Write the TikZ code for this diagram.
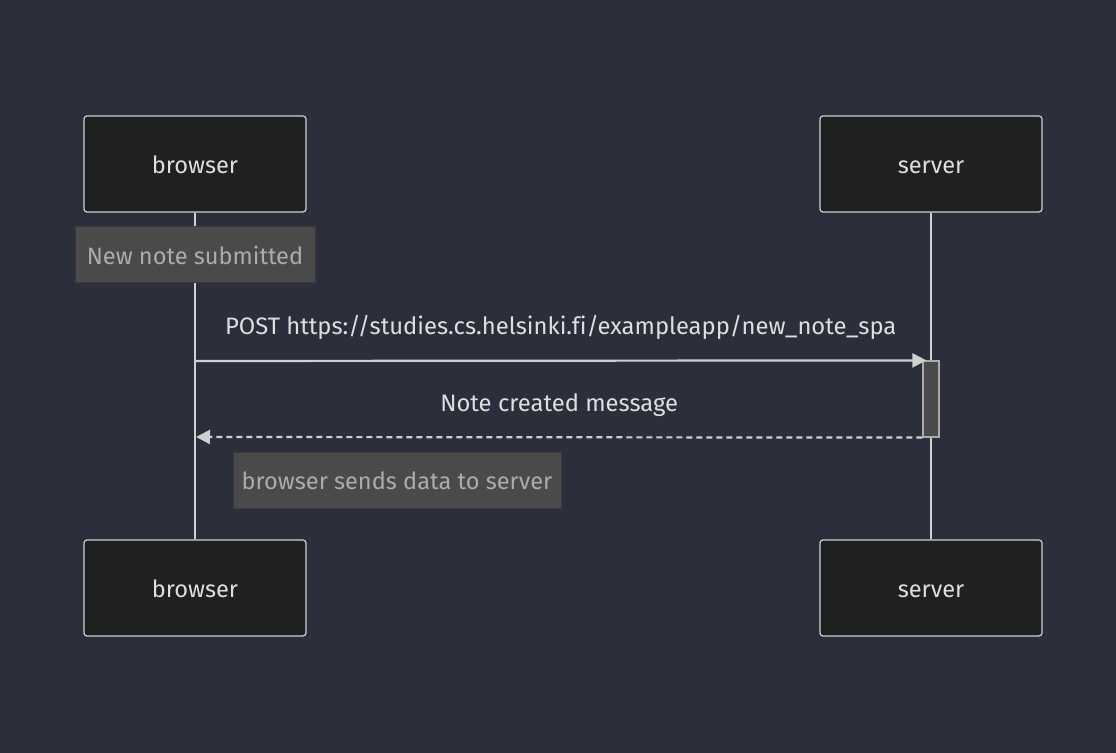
\documentclass[tikz,border=0pt]{standalone}
\usepackage{fontspec}
\setmainfont[Ligatures=NoCommon]{Fira Sans}
\usetikzlibrary{arrows.meta}

\definecolor{bgcol}{RGB}{42,47,59}
\definecolor{actfill}{RGB}{31,32,32}
\definecolor{linecol}{RGB}{208,208,208}
\definecolor{notefill}{RGB}{73,74,73}
\definecolor{noteline}{RGB}{58,58,58}
\definecolor{notetext}{RGB}{172,172,172}
\definecolor{txtcol}{RGB}{222,222,222}

\tikzset{
  actor/.style={draw=linecol, fill=actfill, rounded corners=1.5pt, line width=0.6pt,
    minimum width=111pt, minimum height=48pt, text=txtcol, inner sep=0pt,
    text height=12.5pt, text depth=2.5pt},
  note/.style={draw=noteline, fill=notefill, line width=0.5pt, text=notetext,
    minimum height=28pt, inner sep=0pt},
  life/.style={linecol, line width=1.1pt},
  msg/.style={linecol, line width=1.1pt, -{Triangle[length=7pt,width=7pt]}},
  reply/.style={linecol, line width=1.1pt, dash pattern=on 3pt off 2pt, -{Triangle[length=7pt,width=7pt]}},
  lbl/.style={text=txtcol, inner sep=0pt, font=\fontsize{11.9}{14}\selectfont}
}

\begin{document}
\begin{tikzpicture}[x=0.5pt,y=-0.5pt, font=\fontsize{11.8}{13}\selectfont]
            % Background
            \fill[bgcol] (0,0) rectangle (1116,753);
            \useasboundingbox (0,0) rectangle (1116,753);

            % Actors, top and bottom
            \node[actor] (bTop) at (195,164) {browser};
            \node[actor] (sTop) at (931,164) {server};
            \node[actor] (bBot) at (195,588) {browser};
            \node[actor] (sBot) at (931,588) {server};

            % Lifelines
            \draw[life] (bTop) -- (bBot);
            \draw[life] (sTop) -- (sBot);

            % Notes
            \node[note, minimum width=120pt] (note1) at (195,255) {New note submitted};
            \node[note, minimum width=164pt] (note2) at (397,481) {browser sends data to server};

            % Activation on server
            \node[draw=notetext, fill=notefill, line width=0.6pt, minimum width=8pt,
              minimum height=38pt, inner sep=0pt] (act) at (931,399) {};

            % Messages
            \coordinate (m1s) at (195,361);
            \coordinate (m2e) at (196,437);
            \draw[msg] (m1s) -- ([xshift=2pt]act.north west)
              node[lbl, midway, above=10pt] {POST https://studies.cs.helsinki.fi/exampleapp/new\_note\_spa};
            \draw[reply] (act.south west) -- (m2e)
              node[lbl, midway, above=10pt] {Note created message};
        \end{tikzpicture}
\end{document}
